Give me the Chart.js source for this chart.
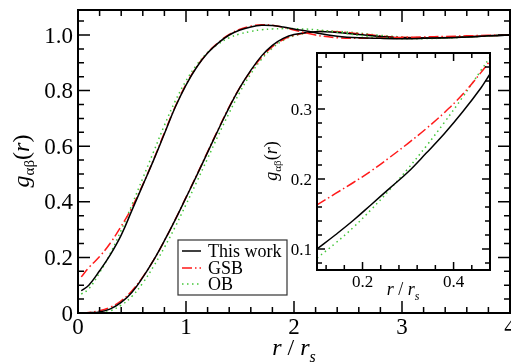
<!DOCTYPE html>
<html>
<head>
<meta charset="utf-8">
<script src="https://cdn.jsdelivr.net/npm/chart.js@4.4.0/dist/chart.umd.min.js"></script>
<style>
  body { margin: 0; background: #fff; }
  #wrap { position: relative; width: 511px; height: 362px; }
  #main { position: absolute; left: 0; top: 0; }
  #inset { position: absolute; left: 255px; top: 45px; }
</style>
</head>
<body>
<div id="wrap">
  <canvas id="main" width="511" height="362"></canvas>
  <canvas id="inset" width="245" height="265"></canvas>
</div>
<script>
// main panel: r / r_s grid and the two pairs of curves
const rMain = [0.03, 0.1, 0.2, 0.3, 0.4, 0.5, 0.6, 0.7, 0.8, 0.9, 1.0,
  1.1, 1.2, 1.3, 1.4, 1.5, 1.6, 1.7, 1.8, 1.9, 2.0,
  2.2, 2.4, 2.6, 2.8, 3.0, 3.2, 3.4, 3.6, 3.8, 4.0];

const thisWorkUpper = [0.080, 0.100, 0.152, 0.210, 0.280, 0.370, 0.460, 0.550, 0.645, 0.740, 0.820,
  0.885, 0.935, 0.972, 1.000, 1.018, 1.029, 1.035, 1.034, 1.029, 1.022,
  1.008, 0.996, 0.990, 0.988, 0.987, 0.988, 0.990, 0.993, 0.997, 1.000];
const gsbUpper = [0.130, 0.163, 0.203, 0.252, 0.312, 0.380, 0.462, 0.552, 0.648, 0.742, 0.822,
  0.886, 0.936, 0.973, 1.002, 1.021, 1.032, 1.037, 1.035, 1.028, 1.018,
  1.000, 0.990, 0.988, 0.989, 0.991, 0.993, 0.995, 0.997, 0.999, 1.000];
const obUpper = [0.068, 0.087, 0.145, 0.215, 0.298, 0.390, 0.485, 0.580, 0.675, 0.762, 0.835,
  0.893, 0.937, 0.968, 0.990, 1.004, 1.013, 1.019, 1.022, 1.023, 1.023,
  1.019, 1.010, 0.999, 0.991, 0.987, 0.987, 0.989, 0.993, 0.997, 1.000];

const thisWorkLower = [0, 0.001, 0.004, 0.015, 0.038, 0.075, 0.128, 0.190, 0.260, 0.335, 0.415,
  0.495, 0.578, 0.660, 0.740, 0.812, 0.873, 0.925, 0.963, 0.988, 1.002,
  1.012, 1.009, 1.002, 0.995, 0.990, 0.989, 0.990, 0.993, 0.997, 1.000];
const gsbLower = [0, 0.002, 0.008, 0.021, 0.044, 0.080, 0.130, 0.190, 0.260, 0.336, 0.416,
  0.497, 0.580, 0.662, 0.742, 0.812, 0.870, 0.920, 0.958, 0.984, 0.999,
  1.012, 1.012, 1.005, 0.997, 0.992, 0.990, 0.991, 0.994, 0.997, 1.000];
const obLower = [0, 0, 0.001, 0.008, 0.028, 0.060, 0.108, 0.168, 0.236, 0.310, 0.390,
  0.472, 0.556, 0.640, 0.720, 0.795, 0.860, 0.913, 0.953, 0.981, 0.997,
  1.011, 1.013, 1.007, 0.999, 0.993, 0.990, 0.990, 0.993, 0.997, 1.000];

const xTickLabels = [0, 1, 2, 3, 4];
const yTickLabels = [0, 0.2, 0.4, 0.6, 0.8, 1.0];

// inset: zoom on the upper curves at small r
const rInset = [0.10, 0.14, 0.18, 0.22, 0.26, 0.30, 0.34, 0.38, 0.42, 0.46, 0.48];
const thisWorkInset = [0.100, 0.120, 0.141, 0.164, 0.187, 0.210, 0.237, 0.265, 0.296, 0.330, 0.350];
const gsbInset = [0.163, 0.179, 0.195, 0.212, 0.231, 0.251, 0.272, 0.295, 0.321, 0.352, 0.369];
const obInset = [0.087, 0.108, 0.131, 0.157, 0.185, 0.215, 0.247, 0.281, 0.317, 0.355, 0.374];
const insetXTicks = [0.2, 0.4];
const insetYTicks = [0.1, 0.2, 0.3];

const legendNames = ['This work', 'GSB', 'OB'];

const SERIF = 'Liberation Serif';

const styles = [
  { color: '#000000', dash: [] },
  { color: '#ff1a1a', dash: [10, 3, 1.5, 3] },
  { color: '#44c63a', dash: [1.5, 3.5] }
];

function pts(xs, ys) {
  return xs.map((x, i) => ({ x: x, y: ys[i] }));
}

function lineSet(label, data, s) {
  return {
    label: label,
    data: data,
    borderColor: s.color,
    borderDash: s.dash,
    borderWidth: 1.5,
    pointRadius: 0,
    fill: false,
    tension: 0.4
  };
}

// frame with inward ticks on all four sides, plus the tick labels
function drawFrame(chart, o) {
  const ctx = chart.ctx;
  const a = chart.chartArea;
  const xs = chart.scales.x, ys = chart.scales.y;
  ctx.save();
  ctx.strokeStyle = '#000';
  ctx.lineWidth = o.tickWidth;
  ctx.beginPath();
  o.xMarks.forEach(m => {
    const px = xs.getPixelForValue(m.v);
    const len = m.major ? o.major : o.minor;
    ctx.moveTo(px, a.bottom); ctx.lineTo(px, a.bottom - len);
    ctx.moveTo(px, a.top); ctx.lineTo(px, a.top + len);
  });
  o.yMarks.forEach(m => {
    const py = ys.getPixelForValue(m.v);
    const len = m.major ? o.major : o.minor;
    ctx.moveTo(a.left, py); ctx.lineTo(a.left + len, py);
    ctx.moveTo(a.right, py); ctx.lineTo(a.right - len, py);
  });
  ctx.stroke();
  ctx.lineWidth = o.frameWidth;
  ctx.strokeRect(a.left, a.top, a.right - a.left, a.bottom - a.top);

  ctx.fillStyle = '#000';
  ctx.font = o.fontSize + 'px ' + SERIF;
  ctx.textBaseline = 'alphabetic';
  ctx.textAlign = 'center';
  o.xLabels.forEach(v => {
    ctx.fillText(o.xFmt(v), xs.getPixelForValue(v), a.bottom + o.xBase);
  });
  ctx.textAlign = 'right';
  o.yLabels.forEach(v => {
    ctx.fillText(o.yFmt(v), a.left - o.yGap, ys.getPixelForValue(v) + o.fontSize * 0.33);
  });
  ctx.restore();
}

function marks(from, to, step, every) {
  const out = [];
  for (let k = from; k <= to; k++) out.push({ v: +(k * step).toFixed(4), major: k % every === 0 });
  return out;
}

// g_{αβ}(r), rotated
function drawGLabel(ctx, cx, cy, size) {
  const sub = Math.round(size * 0.62);
  const parts = [
    { t: 'g', f: 'italic ' + size + 'px ' + SERIF, dy: 0 },
    { t: 'αβ', f: sub + 'px ' + SERIF, dy: size * 0.22 },
    { t: '(', f: size + 'px ' + SERIF, dy: 0 },
    { t: 'r', f: 'italic ' + size + 'px ' + SERIF, dy: 0 },
    { t: ')', f: size + 'px ' + SERIF, dy: 0 }
  ];
  ctx.save();
  ctx.translate(cx, cy);
  ctx.rotate(-Math.PI / 2);
  ctx.fillStyle = '#000';
  ctx.textAlign = 'left';
  ctx.textBaseline = 'alphabetic';
  let w = 0;
  parts.forEach(p => { ctx.font = p.f; p.w = ctx.measureText(p.t).width; w += p.w; });
  let x = -w / 2;
  parts.forEach(p => { ctx.font = p.f; ctx.fillText(p.t, x, p.dy); x += p.w; });
  ctx.restore();
}

// r / r_s
function drawRLabel(ctx, cx, base, size) {
  const sub = Math.round(size * 0.66);
  const parts = [
    { t: 'r', f: 'italic ' + size + 'px ' + SERIF, dy: 0 },
    { t: ' / ', f: size + 'px ' + SERIF, dy: 0 },
    { t: 'r', f: 'italic ' + size + 'px ' + SERIF, dy: 0 },
    { t: 's', f: 'italic ' + sub + 'px ' + SERIF, dy: size * 0.28 }
  ];
  ctx.save();
  ctx.fillStyle = '#000';
  ctx.textAlign = 'left';
  ctx.textBaseline = 'alphabetic';
  let w = 0;
  parts.forEach(p => { ctx.font = p.f; p.w = ctx.measureText(p.t).width; w += p.w; });
  let x = cx - w / 2;
  parts.forEach(p => { ctx.font = p.f; ctx.fillText(p.t, x, base + p.dy); x += p.w; });
  ctx.restore();
}

function fixWidth(w) {
  return scale => { scale.width = w; scale.paddingTop = 0; scale.paddingBottom = 0; };
}
function fixHeight(h) {
  return scale => { scale.height = h; scale.paddingLeft = 0; scale.paddingRight = 0; };
}

const mainFrame = {
  id: 'mainFrame',
  afterDatasetsDraw(chart) {
    drawFrame(chart, {
      major: 12, minor: 6, tickWidth: 1.5, frameWidth: 2,
      xMarks: marks(0, 20, 0.2, 5),
      yMarks: marks(0, 21, 0.05, 4),
      fontSize: 23, xBase: 21, yGap: 5,
      xLabels: xTickLabels, yLabels: yTickLabels,
      xFmt: v => String(v), yFmt: v => v === 0 ? '0' : v.toFixed(1)
    });
    const ctx = chart.ctx;
    // legend box
    const bx = 178, by = 240, bw = 109, bh = 55;
    ctx.save();
    ctx.fillStyle = '#fff';
    ctx.fillRect(bx, by, bw, bh);
    ctx.strokeStyle = '#333';
    ctx.lineWidth = 1.2;
    ctx.strokeRect(bx, by, bw, bh);
    const rows = [251, 268, 284];
    legendNames.forEach((name, i) => {
      ctx.beginPath();
      ctx.strokeStyle = styles[i].color;
      ctx.setLineDash(styles[i].dash);
      ctx.lineWidth = 1.5;
      ctx.moveTo(182, rows[i]);
      ctx.lineTo(201, rows[i]);
      ctx.stroke();
      ctx.setLineDash([]);
      ctx.fillStyle = '#000';
      ctx.font = '18px ' + SERIF;
      ctx.textBaseline = 'middle';
      ctx.fillText(name, 208, rows[i] + 1);
    });
    ctx.restore();
    drawGLabel(ctx, 29, 161, 24);
    drawRLabel(ctx, 294, 355, 24);
  }
};

const insetFrame = {
  id: 'insetFrame',
  beforeDatasetsDraw(chart) {
    const a = chart.chartArea;
    chart.ctx.save();
    chart.ctx.fillStyle = '#fff';
    chart.ctx.fillRect(a.left, a.top, a.right - a.left, a.bottom - a.top);
    chart.ctx.restore();
  },
  afterDatasetsDraw(chart) {
    drawFrame(chart, {
      major: 8, minor: 5, tickWidth: 1.5, frameWidth: 2,
      xMarks: marks(3, 12, 0.04, 5),
      yMarks: marks(4, 19, 0.02, 5),
      fontSize: 17, xBase: 17, yGap: 5,
      xLabels: insetXTicks, yLabels: insetYTicks,
      xFmt: v => v.toFixed(1), yFmt: v => v.toFixed(1)
    });
    drawGLabel(chart.ctx, 22, 116, 18);
    drawRLabel(chart.ctx, 148, 250, 18);
  }
};

function scaleOpts(min, max, fit) {
  return {
    type: 'linear', min: min, max: max,
    grid: { display: false, drawTicks: false },
    border: { display: false },
    ticks: { display: false },
    afterFit: fit
  };
}

new Chart(document.getElementById('main'), {
  type: 'line',
  data: {
    datasets: [
      lineSet('This work', pts(rMain, thisWorkUpper), styles[0]),
      lineSet('GSB', pts(rMain, gsbUpper), styles[1]),
      lineSet('OB', pts(rMain, obUpper), styles[2]),
      lineSet('This work', pts(rMain, thisWorkLower), styles[0]),
      lineSet('GSB', pts(rMain, gsbLower), styles[1]),
      lineSet('OB', pts(rMain, obLower), styles[2])
    ]
  },
  options: {
    responsive: false,
    animation: false,
    devicePixelRatio: 1,
    layout: { padding: { top: 10, right: 1, left: 0, bottom: 0 } },
    plugins: { legend: { display: false }, tooltip: { enabled: false } },
    scales: {
      x: scaleOpts(0, 4, fixHeight(49)),
      y: scaleOpts(0, 1.09, fixWidth(78))
    }
  },
  plugins: [mainFrame]
});

new Chart(document.getElementById('inset'), {
  type: 'line',
  data: {
    datasets: [
      lineSet('This work', pts(rInset, thisWorkInset), styles[0]),
      lineSet('GSB', pts(rInset, gsbInset), styles[1]),
      lineSet('OB', pts(rInset, obInset), styles[2])
    ]
  },
  options: {
    responsive: false,
    animation: false,
    devicePixelRatio: 1,
    layout: { padding: { top: 8, right: 10, left: 0, bottom: 0 } },
    plugins: { legend: { display: false }, tooltip: { enabled: false } },
    scales: {
      x: scaleOpts(0.1, 0.48, fixHeight(40)),
      y: scaleOpts(0.07, 0.38, fixWidth(62))
    }
  },
  plugins: [insetFrame]
});
</script>
</body>
</html>
